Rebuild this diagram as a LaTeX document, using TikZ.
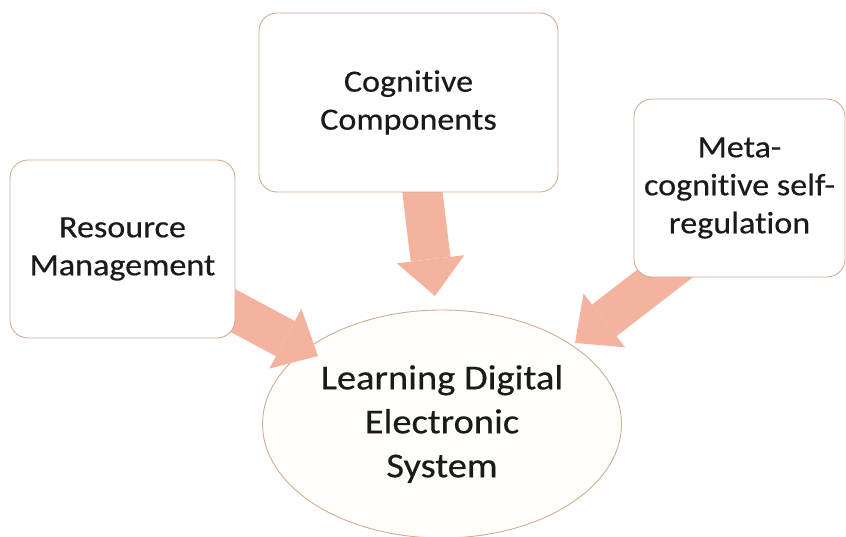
\documentclass[tikz,border=0pt]{standalone}
\usepackage{fontspec}
\setmainfont[FakeStretch=1.1, FakeBold=0.4, Ligatures=NoCommon]{Carlito}
\usetikzlibrary{shapes.geometric,arrows.meta}
\pgfdeclarelayer{bottom}
\pgfdeclarelayer{background}
\pgfsetlayers{bottom,background,main}
\definecolor{boxline}{HTML}{D2AC94}
\definecolor{arrowfill}{HTML}{F3B39E}
\definecolor{ovalfill}{HTML}{FFFEFB}
\definecolor{txt}{HTML}{1A1A1A}
\begin{document}
\begin{tikzpicture}[x=1pt,y=-1pt,
  topic/.style={draw=boxline, line width=0.9pt, fill=white, rounded corners=18pt,
    align=center, text=txt, inner sep=0pt,
    font=\fontsize{31}{38}\selectfont},
  goal/.style={ellipse, draw=boxline, line width=0.9pt, fill=ovalfill,
    align=center, text=txt, inner sep=0pt,
    minimum width=359pt, minimum height=228pt,
    font=\fontsize{35}{44}\selectfont},
  bigarrow/.style={draw=arrowfill, line width=40pt, line cap=butt,
    -{Triangle[width=68pt 0, length=37pt 0, line width=0pt 0 0]}}]
\useasboundingbox (0,0) rectangle (846,537);

% central outcome
\begin{pgfonlayer}{bottom}
\node[goal] (lds) at (442,424) {Learning Digital\\Electronic\\System};
\end{pgfonlayer}

% contributing components
\node[topic, minimum width=225pt, minimum height=178pt] (rm) at (122.5,249)
  {Resource\\Management};
\node[topic, minimum width=299pt, minimum height=179pt] (cc) at (408.5,102.5)
  {Cognitive\\Components};
\node[topic, minimum width=211pt, minimum height=178pt] (msr) at (739.5,188)
  {Meta-\\cognitive self-\\regulation};

% arrow anchors
\coordinate (rmOut) at (200,293);
\coordinate (ccOut) at (421,180);
\coordinate (msrOut) at (685,258);
\coordinate (ldsW) at (318,356);
\coordinate (ldsN) at (435,296);
\coordinate (ldsE) at (575,343);

\begin{pgfonlayer}{background}
\draw[bigarrow] (rmOut) -- (ldsW);
\draw[bigarrow] (ccOut) -- (ldsN);
\draw[bigarrow] (msrOut) -- (ldsE);
\end{pgfonlayer}
\end{tikzpicture}
\end{document}
